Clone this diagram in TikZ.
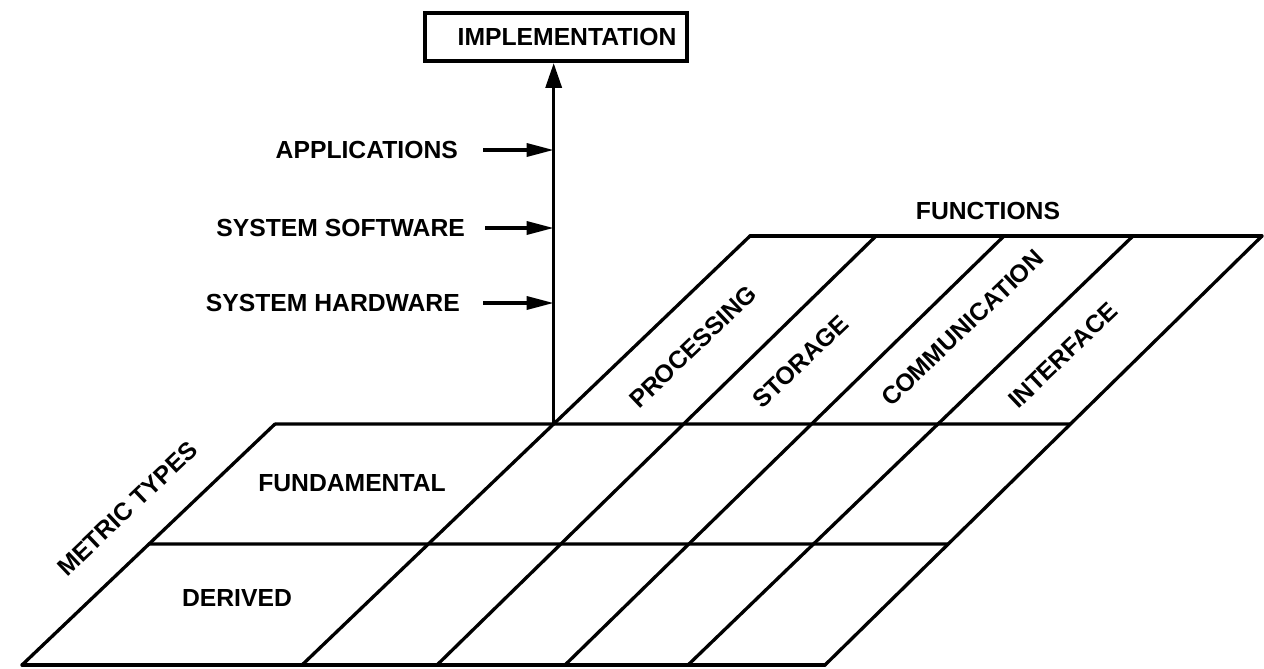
\documentclass[tikz,border=0pt]{standalone}
\usepackage{fontspec}
\setmainfont{Liberation Sans}
\usetikzlibrary{arrows.meta,calc}
\begin{document}
\begin{tikzpicture}[x=1pt,y=-1pt,
  gridline/.style={line width=3.3pt,line cap=round,line join=round},
  lbl/.style={font=\fontsize{24.7}{28}\selectfont\bfseries,inner sep=0pt},
  tilt/.style={lbl,rotate=43.6,anchor=base west},
  uparrow/.style={line width=3.5pt,-{Triangle[length=25pt,width=16pt]}},
  sidearrow/.style={line width=3.3pt,-{Triangle[length=27pt,width=13pt]}}]
\useasboundingbox (0,0) rectangle (1264,669);

% slanted lines of the metric/function grid
\coordinate (b0) at (22,665);  \coordinate (t0) at (275,424);
\coordinate (b1) at (302,665); \coordinate (k1) at (750,236);
\coordinate (b2) at (437,665); \coordinate (k2) at (876,236);
\coordinate (b3) at (565,665); \coordinate (k3) at (1004,236);
\coordinate (b4) at (688,665); \coordinate (k4) at (1133,236);
\coordinate (b5) at (825,665); \coordinate (k5) at (1262,236);

\draw[gridline] (b0) -- (t0);
\foreach \i in {1,...,5} \draw[gridline] (b\i) -- (k\i);

% horizontal rules
\coordinate (m0) at ($(b0)!0.5021!(t0)$);
\coordinate (m5) at ($(b5)!0.2821!(k5)$);
\coordinate (t5) at ($(b5)!0.5618!(k5)$);
\draw[gridline] (b0) -- (b5);
\draw[gridline] (m0) -- (m5);
\draw[gridline] (t0) -- (t5);
\draw[gridline] (k1) -- (k5);

% implementation axis
\coordinate (base) at ($(b1)!0.5618!(k1)$);
\node[lbl,draw,line width=4pt,minimum width=262pt,minimum height=48pt]
  (impl) at (556,37) {\hspace*{22pt}IMPLEMENTATION};
\draw[uparrow] (base) -- (base |- impl.south);

\node[lbl,anchor=east] (app) at (458,150) {APPLICATIONS};
\node[lbl,anchor=east] (sw)  at (465,228) {SYSTEM SOFTWARE};
\node[lbl,anchor=east] (hw)  at (460,303) {SYSTEM HARDWARE};
\draw[sidearrow] ([xshift=25pt]app.east) -- (app.east -| base);
\draw[sidearrow] ([xshift=20pt]sw.east) -- (sw.east -| base);
\draw[sidearrow] ([xshift=23pt]hw.east) -- (hw.east -| base);

% row and column labels
\node[lbl] (fund) at (352,483) {FUNDAMENTAL};
\node[lbl] (der)  at (237,598) {DERIVED};
\node[lbl] (fun)  at (988,211) {FUNCTIONS};
\node[tilt] (mt)   at (67,578)  {METRIC TYPES};
\node[tilt] (proc) at (639,410) {PROCESSING};
\node[tilt] (stor) at (762,410) {STORAGE};
\node[tilt] (comm) at (891,408) {COMMUNICATION};
\node[tilt] (intf) at (1018,410) {INTERFACE};
\end{tikzpicture}
\end{document}
